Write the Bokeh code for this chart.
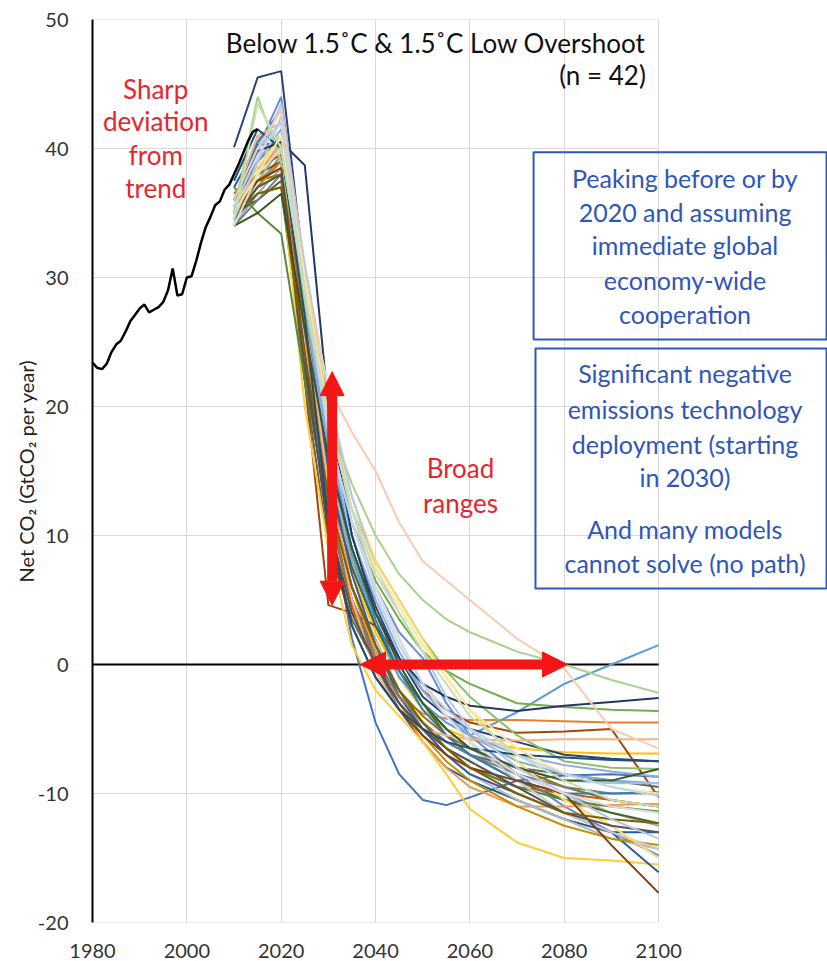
from bokeh.plotting import figure
from bokeh.models import Range1d, FixedTicker, Label, BoxAnnotation, Arrow, NormalHead
from bokeh.embed import file_html
from bokeh.resources import INLINE

# ---------------- data ----------------
x_ticks = [1980, 2000, 2020, 2040, 2060, 2080, 2100]
y_ticks = [-20, -10, 0, 10, 20, 30, 40, 50]

hist_years = list(range(1980, 2016))
hist_values = [23.4, 23.0, 22.9, 23.3, 24.2, 24.8, 25.1, 25.8, 26.6, 27.1,
               27.6, 27.9, 27.3, 27.5, 27.7, 28.1, 29.0, 30.7, 28.6, 28.7,
               30.0, 30.1, 31.3, 32.7, 33.9, 34.7, 35.6, 35.9, 36.8, 37.2,
               38.0, 38.8, 39.7, 40.6, 41.3, 41.5]

scen_years = [2010, 2015, 2020, 2025, 2030, 2035, 2040, 2045, 2050, 2055, 2060, 2070, 2080, 2090, 2100]

s01 = [35.0, 38.0, 40.0, 25.0, 12.0, 2.0, -4.5, -8.5, -10.5, -10.9, -10.3, -9.0, -8.6, -8.5, -8.7]
s02 = [35.5, 37.5, 39.0, 27.0, 14.0, 6.0, 0.5, -2.5, -3.8, -4.2, -4.3, -4.3, -4.4, -4.5, -4.5]
s03 = [34.0, 36.5, 38.5, 26.0, 15.0, 8.0, 3.0, -0.5, -3.0, -5.0, -6.5, -8.5, -10.0, -11.5, -12.5]
s04 = [36.0, 38.5, 40.0, 24.0, 13.0, 7.0, 2.5, -1.0, -3.5, -5.0, -5.8, -6.5, -6.8, -6.9, -6.9]
s05 = [35.2, 37.0, 39.5, 28.0, 16.0, 8.5, 3.0, -1.0, -3.0, -4.5, -5.5, -3.7, -1.5, 0.0, 1.5]
s06 = [34.5, 37.0, 38.0, 26.0, 17.0, 11.0, 6.5, 3.5, 1.0, -0.5, -1.5, -3.0, -3.3, -3.5, -3.6]
s07 = [40.1, 45.5, 46.0, 30.0, 18.0, 10.0, 4.5, 0.5, -2.5, -4.0, -5.0, -6.0, -7.0, -7.3, -7.5]
s08 = [36.0, 38.0, 39.0, 22.0, 4.6, 4.0, 3.0, 0.5, -2.0, -3.5, -4.5, -5.3, -5.2, -5.0, -10.3]
s09 = [34.5, 36.5, 37.0, 22.0, 9.0, 3.5, 0.0, -2.5, -4.5, -6.0, -7.0, -8.0, -8.5, -9.0, -9.5]
s10 = [35.0, 37.5, 38.0, 24.0, 12.0, 5.0, 1.0, -2.0, -4.0, -5.5, -6.5, -8.0, -9.5, -10.5, -11.0]
s11 = [37.0, 40.3, 40.4, 27.0, 13.0, 5.0, 0.0, -3.5, -6.0, -8.0, -9.0, -10.5, -12.0, -13.0, -13.0]
s12 = [35.0, 36.0, 37.5, 25.0, 14.0, 7.5, 3.0, -0.5, -3.0, -5.5, -7.0, -9.0, -10.5, -11.5, -12.3]
s13 = [36.0, 40.0, 44.0, 30.0, 19.0, 11.0, 6.0, 2.5, 0.5, -3.0, -5.5, -8.5, -11.0, -13.0, -14.8]
s14 = [35.5, 38.0, 40.5, 26.0, 14.0, 6.0, 1.0, -3.0, -6.0, -8.0, -9.5, -11.0, -11.0, -10.9, -10.8]
s15 = [34.0, 41.0, 39.0, 25.0, 13.0, 6.0, 2.0, -2.0, -5.0, -7.0, -8.5, -10.5, -12.0, -13.5, -14.3]
s16 = [35.0, 37.0, 38.0, 20.0, 9.0, 1.5, -2.0, -4.0, -6.0, -8.5, -11.2, -13.8, -15.0, -15.2, -15.5]
s17 = [36.0, 39.0, 41.0, 28.0, 16.0, 9.0, 4.0, 0.5, -2.0, -4.0, -5.5, -7.5, -8.5, -9.0, -9.2]
s18 = [34.5, 37.5, 40.0, 28.0, 18.0, 12.0, 8.0, 5.0, 2.0, -0.5, -2.5, -5.5, -7.5, -8.0, -8.1]
s19 = [35.5, 39.0, 41.0, 27.0, 15.0, 7.0, 1.5, -2.5, -5.0, -7.0, -8.5, -10.0, -11.5, -13.0, -16.1]
s20 = [36.5, 38.5, 39.5, 26.0, 12.0, 4.5, 0.0, -3.0, -5.0, -6.5, -8.0, -9.5, -10.0, -10.5, -11.0]
s21 = [34.0, 36.0, 38.0, 24.0, 12.0, 5.0, 0.5, -2.5, -4.5, -6.0, -7.0, -8.5, -9.5, -10.0, -10.0]
s22 = [35.0, 37.0, 39.0, 23.0, 11.0, 4.0, 0.0, -3.0, -5.5, -7.5, -9.0, -11.0, -12.5, -13.5, -14.0]
s23 = [36.0, 40.5, 43.0, 29.0, 17.0, 9.0, 3.5, -0.5, -3.5, -5.5, -7.0, -9.0, -10.0, -10.0, -9.9]
s24 = [37.0, 35.0, 33.4, 22.0, 12.0, 6.0, 1.5, -2.0, -4.5, -6.5, -8.0, -9.5, -10.5, -11.0, -11.4]
s25 = [35.0, 39.0, 41.5, 28.0, 17.0, 10.0, 5.0, 1.0, -2.0, -4.0, -5.5, -7.0, -7.8, -8.3, -8.7]
s26 = [36.0, 41.0, 42.0, 27.0, 14.0, 5.0, -0.5, -3.5, -5.0, -5.5, -5.8, -5.9, -5.8, -5.8, -5.8]
s27 = [34.0, 38.0, 42.5, 30.0, 20.0, 12.0, 6.0, 2.0, -1.5, -4.0, -6.0, -9.0, -11.5, -13.0, -14.3]
s28 = [35.5, 38.5, 41.0, 29.0, 20.0, 13.0, 8.0, 5.0, 2.0, -1.0, -3.5, -7.5, -10.5, -12.5, -15.0]
s29 = [36.0, 40.0, 42.0, 29.0, 18.0, 10.0, 4.0, 0.0, -3.0, -5.0, -6.5, -8.0, -9.0, -9.2, -9.2]
s30 = [35.0, 44.0, 39.0, 28.0, 19.0, 14.0, 10.0, 7.0, 5.0, 3.5, 2.5, 1.0, 0.0, -1.2, -2.2]
s31 = [36.0, 39.8, 40.5, 38.7, 20.0, 10.0, 4.0, 0.5, -1.5, -2.5, -3.2, -3.6, -3.2, -2.9, -2.6]
s32 = [35.0, 37.5, 38.5, 24.0, 10.0, 3.0, -1.0, -3.5, -5.5, -7.0, -8.0, -9.0, -10.0, -14.0, -17.7]
s33 = [34.5, 37.0, 38.0, 23.0, 11.0, 4.0, 0.0, -3.0, -5.0, -6.5, -7.5, -9.5, -11.5, -12.5, -13.0]
s34 = [35.0, 36.5, 37.0, 24.0, 13.0, 6.0, 1.5, -2.0, -4.5, -6.5, -8.0, -10.0, -11.5, -12.0, -12.3]
s35 = [37.5, 41.5, 40.0, 27.0, 11.0, 3.0, -1.0, -3.5, -5.0, -6.0, -6.5, -7.0, -7.2, -7.4, -7.5]
s36 = [34.0, 35.0, 36.5, 26.0, 16.0, 9.0, 4.0, 0.0, -3.0, -5.0, -6.5, -8.0, -9.0, -9.0, -8.1]
s37 = [34.5, 39.0, 43.5, 31.0, 21.0, 13.0, 7.5, 4.0, 1.0, -2.5, -5.0, -8.0, -10.0, -12.0, -13.5]
s38 = [36.0, 40.0, 43.0, 30.0, 21.5, 18.0, 15.0, 11.0, 8.0, 6.5, 5.0, 2.0, -0.3, -5.0, -6.5]
s39 = [34.0, 38.0, 40.0, 29.0, 18.0, 11.0, 6.0, 2.0, -1.5, -4.0, -6.0, -8.5, -10.0, -11.0, -11.5]
s40 = [35.0, 38.0, 41.0, 30.0, 19.0, 12.0, 7.5, 4.5, 1.5, -1.0, -3.5, -6.5, -8.5, -9.5, -10.0]
s41 = [35.5, 39.5, 42.0, 29.0, 18.0, 11.0, 5.5, 1.5, -1.5, -3.5, -5.0, -7.0, -8.5, -9.5, -10.2]
s42 = [34.5, 43.5, 40.0, 29.0, 19.0, 12.0, 7.0, 4.0, 1.0, -1.5, -4.0, -7.0, -9.0, -10.5, -11.0]

scenarios = [s01, s02, s03, s04, s05, s06, s07, s08, s09, s10, s11, s12, s13, s14,
             s15, s16, s17, s18, s19, s20, s21, s22, s23, s24, s25, s26, s27, s28,
             s29, s30, s31, s32, s33, s34, s35, s36, s37, s38, s39, s40, s41, s42]

scen_colors = ["#4472C4", "#ED7D31", "#A5A5A5", "#FFC000", "#5B9BD5", "#70AD47",
               "#264478", "#9E480E", "#636363", "#997300", "#255E91", "#43682B",
               "#698ED0", "#F1975A", "#B7B7B7", "#FFCD33", "#7CAFDD", "#8CC168",
               "#335AA1", "#C55A11", "#7C7C7C", "#BF9000", "#327DC2", "#5A8A39",
               "#8FAADC", "#F4B183", "#C9C9C9", "#FFD966", "#9DC3E6", "#A9D18E",
               "#203864", "#843C0C", "#525252", "#7F6000", "#1F4E79", "#385723",
               "#B4C7E7", "#F8CBAD", "#DBDBDB", "#FFE699", "#BDD7EE", "#C5E0B4"]

FONT = "Lato"
RED_TXT = "#e5262e"
RED_ARR = "#f21616"
BLUE = "#2f56b8"
GRID = "#d9d9d9"

# ---------------- figure ----------------
# plot frame runs past 2100 so the right-hand boxes can sit inside it
p = figure(width=827, height=961, x_range=Range1d(1980, 2135.8), y_range=Range1d(-20, 50),
           output_backend="svg", toolbar_location=None, title=None,
           min_border_left=92, min_border_right=0, min_border_top=19, min_border_bottom=39)
p.outline_line_color = None
p.background_fill_color = "white"

p.xaxis.ticker = FixedTicker(ticks=x_ticks)
p.yaxis.ticker = FixedTicker(ticks=y_ticks)
p.yaxis.major_label_overrides = {t: str(t) for t in y_ticks}
for ax in (p.xaxis, p.yaxis):
    ax.major_tick_line_color = None
    ax.minor_tick_line_color = None
    ax.major_label_text_font = FONT
    ax.major_label_text_font_size = "20px"
    ax.major_label_text_color = "#333333"
p.xaxis.axis_line_color = None
p.xaxis.major_label_standoff = 15
p.yaxis.axis_line_color = "black"
p.yaxis.axis_line_width = 2
p.yaxis.major_label_standoff = 18
p.yaxis.axis_label = "Net CO\u2082 (GtCO\u2082 per year)"
p.yaxis.axis_label_text_font = FONT
p.yaxis.axis_label_text_font_size = "20px"
p.yaxis.axis_label_text_font_style = "normal"
p.yaxis.axis_label_text_color = "#222222"
p.yaxis.axis_label_standoff = -3

p.xgrid.grid_line_color = GRID
p.xgrid.grid_line_width = 1
p.ygrid.visible = False
# horizontal grid lines limited to the 1980-2100 span
p.segment(x0=[x_ticks[0]] * len(y_ticks), x1=[x_ticks[-1]] * len(y_ticks),
          y0=y_ticks, y1=y_ticks, line_color=GRID, line_width=1)

# zero line
p.line([x_ticks[0], x_ticks[-1]], [0, 0], line_color="black", line_width=2)

p.multi_line(xs=[scen_years] * len(scenarios), ys=scenarios, line_color=scen_colors, line_width=2)
p.line(hist_years, hist_values, line_color="black", line_width=2.5)

# arrows
p.add_layout(Arrow(start=NormalHead(size=24, fill_color=RED_ARR, line_color=RED_ARR),
                   end=NormalHead(size=24, fill_color=RED_ARR, line_color=RED_ARR),
                   x_start=2030.8, y_start=4.6, x_end=2030.8, y_end=22.7,
                   line_color=RED_ARR, line_width=10))
p.add_layout(Arrow(start=NormalHead(size=25, fill_color=RED_ARR, line_color=RED_ARR),
                   end=NormalHead(size=25, fill_color=RED_ARR, line_color=RED_ARR),
                   x_start=2036.8, y_start=0, x_end=2080.7, y_end=0,
                   line_color=RED_ARR, line_width=10))

# boxes
p.add_layout(BoxAnnotation(left=2073.5, right=2135.6, top=39.7, bottom=25.2,
                           fill_color=None, line_color=BLUE, line_alpha=1.0, line_width=2))
p.add_layout(BoxAnnotation(left=2073.9, right=2135.6, top=24.5, bottom=5.9,
                           fill_color=None, line_color=BLUE, line_alpha=1.0, line_width=2))

def txt(x, y, s, color, size, align="center"):
    p.add_layout(Label(x=x, y=y, text=s, text_color=color, text_font=FONT,
                       text_font_size=size, text_align=align, text_baseline="middle"))

txt(2097.3, 48.2, "Below 1.5\u02daC & 1.5\u02daC Low Overshoot", "#111111", "26px", "right")
txt(2097.3, 45.7, "(n = 42)", "#111111", "26px", "right")

for yy, s in zip([44.65, 42.1, 39.5, 36.9], ["Sharp", "deviation", "from", "trend"]):
    txt(1993.4, yy, s, RED_TXT, "26px")
for yy, s in zip([15.2, 12.5], ["Broad", "ranges"]):
    txt(2058.0, yy, s, RED_TXT, "26px")

box1 = ["Peaking before or by", "2020 and assuming", "immediate global",
        "economy-wide", "cooperation"]
for yy, s in zip([37.75, 35.1, 32.5, 29.8, 27.2], box1):
    txt(2105.6, yy, s, BLUE, "25px")
box2 = ["Significant negative", "emissions technology", "deployment (starting",
        "in 2030)", "And many models", "cannot solve (no path)"]
for yy, s in zip([22.56, 19.84, 17.13, 14.5, 10.54, 7.83], box2):
    txt(2105.6, yy, s, BLUE, "25px")

open("out.html", "w").write(file_html(p, INLINE))
